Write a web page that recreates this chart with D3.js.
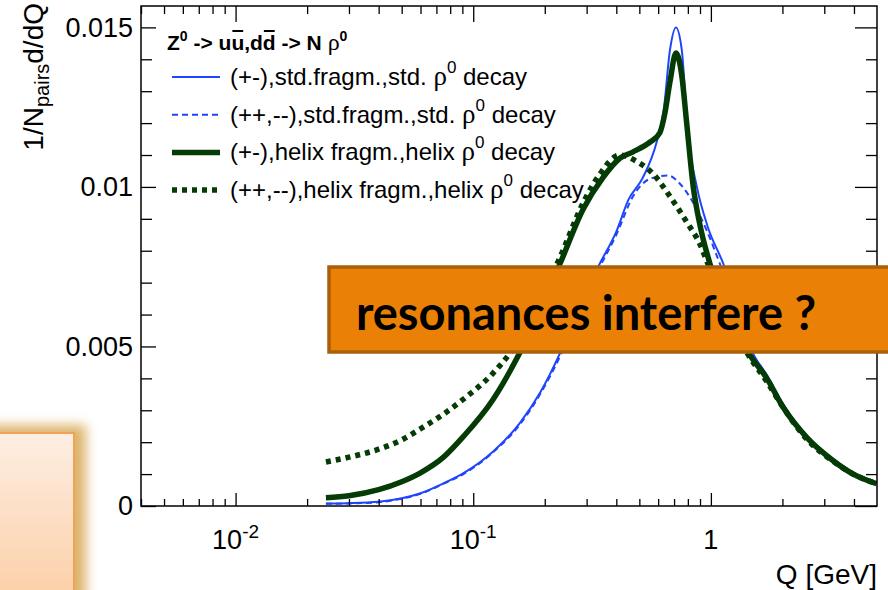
<!DOCTYPE html>
<html>
<head>
<meta charset="utf-8">
<script src="https://cdn.jsdelivr.net/npm/d3@7"></script>
<style>
  body { margin: 0; background: #fff; }
  svg { display: block; font-family: "Liberation Sans", Arial, Helvetica, sans-serif; }
</style>
</head>
<body>
<svg id="chart" width="888" height="590"></svg>
<script>
// --- data (Q in GeV, 1/N dN/dQ) ---
const qStdOS = [0.024, 0.03, 0.04, 0.05, 0.06, 0.075, 0.091, 0.121, 0.157, 0.191, 0.232, 0.28, 0.341, 0.40, 0.45, 0.518, 0.591, 0.633, 0.673, 0.713, 0.754, 0.80, 0.873, 0.965, 1.127, 1.5, 1.72, 2.01, 2.53, 3.27, 3.97, 4.98];
const vStdOS = [0.00008, 0.00009, 0.00013, 0.00024, 0.0004, 0.00071, 0.00103, 0.0017, 0.0026, 0.00355, 0.0048, 0.0063, 0.0076, 0.0086, 0.0096, 0.0103, 0.0114, 0.0124, 0.0143, 0.0150, 0.0143, 0.0117, 0.0100, 0.0088, 0.0076, 0.0048, 0.0041, 0.0032, 0.0022, 0.00147, 0.00105, 0.00073];

const qStdSS = [0.024, 0.03, 0.04, 0.05, 0.06, 0.075, 0.091, 0.121, 0.157, 0.191, 0.232, 0.28, 0.341, 0.40, 0.47, 0.553, 0.66, 0.741, 0.843, 0.965, 1.09, 1.48, 1.72, 2.01, 2.53, 3.27, 3.97, 4.98];
const vStdSS = [0.00007, 0.00008, 0.00012, 0.00023, 0.00038, 0.0007, 0.001, 0.00168, 0.00255, 0.0035, 0.0047, 0.0062, 0.0075, 0.0085, 0.0097, 0.01025, 0.01036, 0.0101, 0.0095, 0.0086, 0.0076, 0.0048, 0.0041, 0.0032, 0.0022, 0.00147, 0.00105, 0.00073];

const qHelixOS = [0.024, 0.03, 0.04, 0.05, 0.06, 0.075, 0.091, 0.121, 0.157, 0.232, 0.29, 0.352, 0.414, 0.471, 0.553, 0.61, 0.64, 0.673, 0.713, 0.754, 0.791, 0.843, 0.90, 0.99, 1.44, 1.72, 2.01, 2.53, 3.27, 3.97, 4.98];
const vHelixOS = [0.00026, 0.00032, 0.00051, 0.00076, 0.00104, 0.00153, 0.00218, 0.00333, 0.0048, 0.0076, 0.0093, 0.0103, 0.0109, 0.0111, 0.0114, 0.0117, 0.0123, 0.0133, 0.0142, 0.0135, 0.0120, 0.0100, 0.0088, 0.0076, 0.0048, 0.0040, 0.0031, 0.00215, 0.00142, 0.001, 0.0007];

const qHelixSS = [0.024, 0.03, 0.04, 0.05, 0.06, 0.075, 0.091, 0.121, 0.143, 0.232, 0.29, 0.341, 0.414, 0.487, 0.573, 0.673, 0.791, 0.90, 0.97, 1.42, 1.72, 2.01, 2.53, 3.27, 3.97, 4.98];
const vHelixSS = [0.00138, 0.00153, 0.00178, 0.00207, 0.00242, 0.00288, 0.00335, 0.00416, 0.0048, 0.0078, 0.0095, 0.0104, 0.0110, 0.0108, 0.0104, 0.0097, 0.0089, 0.0082, 0.0076, 0.0048, 0.0039, 0.0031, 0.0021, 0.0014, 0.001, 0.0007];

const legendLabels = [
  ["(+-),std.fragm.,std. ", " decay"],
  ["(++,--),std.fragm.,std. ", " decay"],
  ["(+-),helix fragm.,helix ", " decay"],
  ["(++,--),helix fragm.,helix ", " decay"]
];

const yTickLabels = [0, 0.005, 0.01, 0.015];
const xTickLabels = [[0.01, "10", "-2"], [0.1, "10", "-1"], [1, "1", ""]];

const series = [
  { q: qStdOS, v: vStdOS, color: "#1f45fc", width: 2, dash: null },
  { q: qStdSS, v: vStdSS, color: "#1f45fc", width: 2, dash: "6,4" },
  { q: qHelixOS, v: vHelixOS, color: "#053b05", width: 5.5, dash: null },
  { q: qHelixSS, v: vHelixSS, color: "#053b05", width: 5.5, dash: "5,5" }
];

const svg = d3.select("#chart");
const frame = { left: 141, right: 877, top: 6, bottom: 506 };

const x = d3.scaleLog().domain([0.004, 5]).range([frame.left, frame.right]);
const y = d3.scaleLinear().domain([0, 0.01567]).range([frame.bottom, frame.top]);

svg.append("rect").attr("width", 888).attr("height", 590).attr("fill", "#fff");

const defs = svg.append("defs");
defs.append("clipPath").attr("id", "plotclip")
  .append("rect")
  .attr("x", frame.left).attr("y", frame.top)
  .attr("width", frame.right - frame.left).attr("height", frame.bottom - frame.top);

// curves
const line = d3.line()
  .x(d => x(d[0]))
  .y(d => y(d[1]))
  .curve(d3.curveMonotoneX);

const curves = svg.append("g").attr("clip-path", "url(#plotclip)");
series.forEach(s => {
  curves.append("path")
    .datum(s.q.map((q, i) => [q, s.v[i]]))
    .attr("d", line)
    .attr("fill", "none")
    .attr("stroke", s.color)
    .attr("stroke-width", s.width)
    .attr("stroke-dasharray", s.dash)
    .attr("stroke-linejoin", "round");
});

// ticks
const xMajor = [0.01, 0.1, 1];
const xMinor = x.ticks().filter(t => !xMajor.some(m => Math.abs(m - t) < 1e-9) && t < 5);
const yMajor = yTickLabels;
const yMinor = d3.range(1, 16).map(i => i * 0.001).filter(t => !yMajor.some(m => Math.abs(m - t) < 1e-9));

function ticks(axisFn, vals, size, translate) {
  svg.append("g")
    .attr("transform", translate)
    .call(axisFn.tickValues(vals).tickSize(size).tickFormat(""))
    .call(g => g.select(".domain").remove())
    .call(g => g.selectAll("line").attr("stroke", "#000").attr("stroke-width", 1.3));
}
ticks(d3.axisBottom(x), xMinor, -7, `translate(0,${frame.bottom})`);
ticks(d3.axisBottom(x), xMajor, -13, `translate(0,${frame.bottom})`);
ticks(d3.axisTop(x), xMinor, -8, `translate(0,${frame.top})`);
ticks(d3.axisTop(x), xMajor, -16, `translate(0,${frame.top})`);
ticks(d3.axisLeft(y), yMinor, -11, `translate(${frame.left},0)`);
ticks(d3.axisRight(y), yMinor, -11, `translate(${frame.right},0)`);
ticks(d3.axisRight(y), yMajor, -22, `translate(${frame.right},0)`);

// left axis with labels
svg.append("g")
  .attr("transform", `translate(${frame.left},0)`)
  .call(d3.axisLeft(y).tickValues(yMajor).tickSize(-15).tickPadding(8)
    .tickFormat(d => d === 0 ? "0" : d3.format(".3~f")(d)))
  .call(g => g.select(".domain").remove())
  .call(g => g.selectAll("line").attr("stroke", "#000").attr("stroke-width", 1.3))
  .call(g => g.selectAll("text")
    .attr("font-family", "'Liberation Sans', Arial, sans-serif")
    .attr("font-size", 27).attr("fill", "#000"));

// x labels
xTickLabels.forEach(([v, base, exp]) => {
  const t = svg.append("text")
    .attr("x", x(v)).attr("y", 549)
    .attr("text-anchor", "middle")
    .attr("font-size", 27);
  t.append("tspan").text(base);
  if (exp) t.append("tspan").attr("dy", -11).attr("font-size", 19).text(exp);
});

// frame
svg.append("rect")
  .attr("x", frame.left).attr("y", frame.top)
  .attr("width", frame.right - frame.left).attr("height", frame.bottom - frame.top)
  .attr("fill", "none").attr("stroke", "#000").attr("stroke-width", 1.5);

// axis titles
svg.append("text")
  .attr("x", frame.right).attr("y", 584)
  .attr("text-anchor", "end")
  .attr("font-size", 28)
  .text("Q [GeV]");

const yTitle = svg.append("text")
  .attr("transform", "translate(43,3) rotate(-90)")
  .attr("text-anchor", "end")
  .attr("font-size", 28);
yTitle.append("tspan").text("1/N");
yTitle.append("tspan").attr("dy", 6).attr("font-size", 20).text("pairs");
yTitle.append("tspan").attr("dy", -6).text("d/dQ");

// legend
const legend = svg.append("g");
const head = legend.append("text")
  .attr("x", 167).attr("y", 50)
  .attr("font-size", 21).attr("font-weight", "bold");
head.append("tspan").text("Z");
head.append("tspan").attr("dy", -9).attr("font-size", 14).text("0");
head.append("tspan").attr("dy", 9).text(" -> uu,dd -> N ");
head.append("tspan").attr("font-family", "'Liberation Serif', serif").attr("font-weight", "normal").attr("font-size", 24).text("ρ");
head.append("tspan").attr("dy", -9).attr("font-size", 14).text("0");

// overlines on the antiquarks (2nd u and 2nd d of the title)
const headNode = head.node();
const fullText = headNode.textContent;
[fullText.indexOf("uu") + 1, fullText.indexOf("dd") + 1].forEach(i => {
  const box = headNode.getExtentOfChar(i);
  legend.append("line")
    .attr("x1", box.x + 1).attr("x2", box.x + box.width - 1)
    .attr("y1", 31).attr("y2", 31)
    .attr("stroke", "#000").attr("stroke-width", 2);
});

legendLabels.forEach((lab, i) => {
  const yy = 77 + i * 37.7;
  const s = series[i];
  legend.append("line")
    .attr("x1", 172).attr("x2", 220)
    .attr("y1", yy).attr("y2", yy)
    .attr("stroke", s.color)
    .attr("stroke-width", s.width)
    .attr("stroke-dasharray", s.dash);
  const t = legend.append("text")
    .attr("x", 230).attr("y", yy + 8)
    .attr("font-size", 24);
  t.append("tspan").text(lab[0]);
  t.append("tspan").attr("font-family", "'Liberation Serif', serif").attr("font-size", 27).text("ρ");
  t.append("tspan").attr("dy", -12).attr("font-size", 17).text("0");
  t.append("tspan").attr("dy", 12).text(lab[1]);
});

// left faded callout box (cut off by the page edge)
const grad = defs.append("linearGradient").attr("id", "peach")
  .attr("x1", 0).attr("y1", 0).attr("x2", 0).attr("y2", 1);
grad.append("stop").attr("offset", "0%").attr("stop-color", "#fdeee3");
grad.append("stop").attr("offset", "100%").attr("stop-color", "#fccda2");
const glow = defs.append("filter").attr("id", "glow")
  .attr("x", "-30%").attr("y", "-30%").attr("width", "160%").attr("height", "160%");
glow.append("feGaussianBlur").attr("stdDeviation", 6);

svg.append("rect")
  .attr("x", -20).attr("y", 425).attr("width", 106).attr("height", 200)
  .attr("fill", "#d9ab5a").attr("opacity", 0.9)
  .attr("filter", "url(#glow)");
svg.append("rect")
  .attr("x", -10).attr("y", 433).attr("width", 84).attr("height", 180)
  .attr("fill", "url(#peach)")
  .attr("stroke", "#f2a257").attr("stroke-width", 2);

// orange label box
svg.append("rect")
  .attr("x", 329).attr("y", 267).attr("width", 580).attr("height", 85)
  .attr("fill", "#eb8006")
  .attr("stroke", "#aa5f0c").attr("stroke-width", 3.5);
svg.append("text")
  .attr("x", 586).attr("y", 330)
  .attr("text-anchor", "middle")
  .attr("font-family", "Lato, 'Open Sans', sans-serif")
  .attr("font-weight", "bold")
  .attr("font-size", 47)
  .attr("fill", "#000")
  .text("resonances interfere ?");
</script>
</body>
</html>
